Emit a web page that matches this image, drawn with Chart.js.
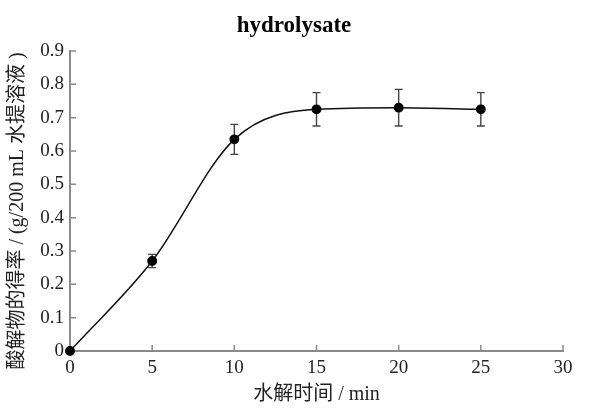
<!DOCTYPE html>
<html>
<head>
<meta charset="utf-8">
<script src="https://cdn.jsdelivr.net/npm/chart.js@4/dist/chart.umd.min.js"></script>
<style>
    html, body { margin: 0; padding: 0; background: #fff; }
    #wrap { width: 592px; height: 412px; }
</style>
</head>
<body>
<div id="wrap"><canvas id="chart"></canvas></div>
<script>
// ===== data =====
const times = [0, 5, 10, 15, 20, 25];
const yieldMean = [0, 0.27, 0.635, 0.725, 0.73, 0.725];
const yieldErr = [0, 0.02, 0.045, 0.05, 0.055, 0.05];
const xRange = [0, 30];
const yRange = [0, 0.9];

const SERIF = "'Liberation Serif', 'Noto Sans CJK SC', serif";
const AXIS_COLOR = '#8a8a8a';

// title centred on the whole figure, not the plot box
const figTitle = {
    id: 'figTitle',
    afterDraw(chart) {
        const ctx = chart.ctx;
        ctx.save();
        ctx.fillStyle = '#000';
        ctx.font = 'bold 23px ' + SERIF;
        ctx.textAlign = 'center';
        ctx.textBaseline = 'middle';
        ctx.fillText('hydrolysate', chart.width / 2 - 2, 26);
        ctx.restore();
    }
};

// error bars, drawn under the markers
const errorBars = {
    id: 'errorBars',
    beforeDatasetsDraw(chart) {
        const { ctx, scales: { x, y } } = chart;
        ctx.save();
        ctx.strokeStyle = '#444';
        ctx.lineWidth = 1.4;
        times.forEach((t, i) => {
            if (!yieldErr[i]) return;
            const px = x.getPixelForValue(t);
            const top = y.getPixelForValue(yieldMean[i] + yieldErr[i]);
            const bot = y.getPixelForValue(yieldMean[i] - yieldErr[i]);
            ctx.beginPath();
            ctx.moveTo(px, top); ctx.lineTo(px, bot);
            ctx.moveTo(px - 4, top); ctx.lineTo(px + 4, top);
            ctx.moveTo(px - 4, bot); ctx.lineTo(px + 4, bot);
            ctx.stroke();
        });
        ctx.restore();
    }
};

// tick marks pointing into the plot
const innerTicks = {
    id: 'innerTicks',
    afterDatasetsDraw(chart) {
        const { ctx, chartArea: a, scales: { x, y } } = chart;
        ctx.save();
        ctx.strokeStyle = AXIS_COLOR;
        ctx.lineWidth = 1.5;
        ctx.beginPath();
        x.ticks.forEach((tk, i) => {
            if (i === 0) return;
            const px = x.getPixelForTick(i);
            ctx.moveTo(px, a.bottom); ctx.lineTo(px, a.bottom - 6);
        });
        y.ticks.forEach((tk, i) => {
            if (i === 0) return;
            const py = y.getPixelForTick(i);
            ctx.moveTo(a.left, py); ctx.lineTo(a.left + 6, py);
        });
        ctx.stroke();
        ctx.restore();
    }
};

new Chart(document.getElementById('chart'), {
    type: 'scatter',
    data: {
        datasets: [{
            data: times.map((t, i) => ({ x: t, y: yieldMean[i] })),
            showLine: true,
            cubicInterpolationMode: 'monotone',
            borderColor: '#111',
            borderWidth: 1.5,
            pointRadius: 4.2,
            pointHoverRadius: 4.2,
            pointBackgroundColor: '#000',
            pointBorderColor: '#000',
            clip: false
        }]
    },
    options: {
        responsive: true, maintainAspectRatio: false, animation: false,
        layout: { padding: { left: 4, right: 29, top: 51, bottom: 2 } },
        plugins: {
            legend: { display: false },
            tooltip: { enabled: false },
            title: { display: false }
        },
        scales: {
            x: {
                type: 'linear', min: xRange[0], max: xRange[1],
                afterFit(s) { s.height = 59; },
                grid: { display: true, drawOnChartArea: false, drawTicks: false },
                border: { display: true, color: AXIS_COLOR, width: 2 },
                ticks: { stepSize: 5, padding: 6, color: '#222', maxRotation: 0, font: { family: SERIF, size: 19 } },
                title: {
                    display: true, text: '水解时间 / min', color: '#222',
                    font: { family: SERIF, size: 20 }, padding: { top: 0, bottom: 3 }
                }
            },
            y: {
                type: 'linear', min: yRange[0], max: yRange[1],
                afterFit(s) { s.width = 66; },
                grid: { display: true, drawOnChartArea: false, drawTicks: false },
                border: { display: true, color: AXIS_COLOR, width: 2 },
                ticks: { stepSize: 0.1, padding: 6, color: '#222', font: { family: SERIF, size: 19 } },
                title: {
                    display: true, text: '酸解物的得率 / (g/200 mL 水提溶液 )    ', color: '#222',
                    font: { family: SERIF, size: 20 }, padding: { top: 2, bottom: 0 }
                }
            }
        }
    },
    plugins: [errorBars, innerTicks, figTitle]
});
</script>
</body>
</html>
